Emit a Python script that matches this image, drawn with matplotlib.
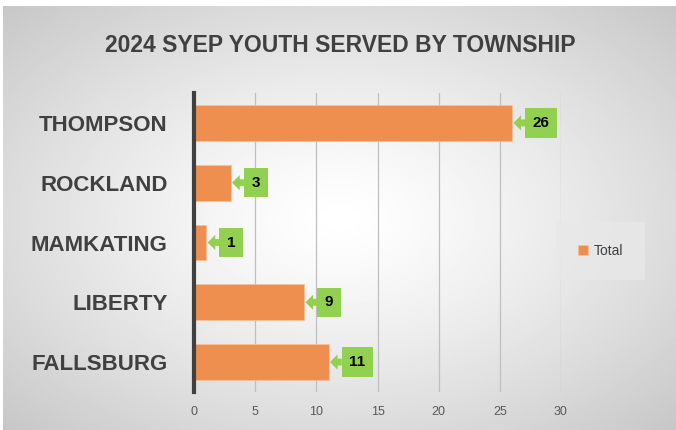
import numpy as np
import matplotlib
matplotlib.use("Agg")
import matplotlib.pyplot as plt

# data, bottom to top as drawn
townships = ["FALLSBURG", "LIBERTY", "MAMKATING", "ROCKLAND", "THOMPSON"]
youth_total = [11, 9, 1, 3, 26]

BAR = "#EF8F4F"
GREEN = "#92D050"
DARK = "#404040"

plt.rcParams["font.family"] = ["Liberation Sans", "DejaVu Sans"]

fig = plt.figure(figsize=(6.76, 4.3), dpi=100)
fig.patch.set_facecolor("white")

# radial grey background
bg = fig.add_axes([3 / 676, 0, 1 - 3 / 676, 1 - 6 / 430], zorder=-2)
yy, xx = np.mgrid[-1:1:300j, -1:1:400j]
r = np.sqrt(xx ** 2 + yy ** 2) / np.sqrt(2)
bg.imshow(1 - 0.22 * r ** 1.3, cmap="gray", vmin=0, vmax=1, aspect="auto")
bg.axis("off")

ax = fig.add_axes([194 / 676, 1 - 392 / 430, (561 - 194) / 676, (392 - 93) / 430])
ax.set_facecolor("none")

y = np.arange(len(townships))
ax.barh(y, youth_total, height=0.6, color=BAR, edgecolor="#F6C29C", linewidth=0.6, zorder=3)

for yi, v in zip(y, youth_total):
    ax.annotate(str(v), xy=(v, yi), xytext=(15, 0), textcoords="offset points",
                ha="left", va="center", fontsize=11, fontweight="bold", color="black",
                bbox=dict(boxstyle="square,pad=0.5", fc=GREEN, ec="none"),
                arrowprops=dict(arrowstyle="simple,head_length=0.5,head_width=1.0,tail_width=0.45",
                                fc=GREEN, ec="none", shrinkA=0, shrinkB=1),
                zorder=4)

ax.set_xlim(0, 30)
ax.set_ylim(-0.5, len(townships) - 0.5)
ax.set_xticks(range(0, 31, 5))
ax.set_yticks(y)
ax.set_yticklabels(townships, fontsize=16, fontweight="bold", color=DARK)
ax.tick_params(axis="y", length=0, pad=19)
ax.tick_params(axis="x", length=0, pad=10, labelsize=9, labelcolor="#595959")
ax.grid(axis="x", color="#BFBFBF", linewidth=0.9, zorder=0)
for s in ("top", "right", "bottom"):
    ax.spines[s].set_visible(False)
ax.spines["left"].set_color(DARK)
ax.spines["left"].set_linewidth(3)
ax.spines["left"].set_zorder(5)

fig.text(340 / 676, 1 - 45 / 430, "2024 SYEP YOUTH SERVED BY TOWNSHIP", ha="center", va="center",
         fontsize=16.5, fontweight="bold", color=DARK)

# legend
leg = ax.legend(["Total"], loc="center left", bbox_to_anchor=(560 / 676, 1 - 251 / 430),
                bbox_transform=fig.transFigure, frameon=True, fontsize=10, handlelength=0.7,
                handleheight=0.7, handletextpad=0.4, borderpad=1.3, borderaxespad=0)
leg.get_frame().set_facecolor("#E8E8E8")
leg.get_frame().set_edgecolor("none")
leg.get_frame().set_boxstyle("square")
for t in leg.get_texts():
    t.set_color(DARK)

fig.savefig("out.png", dpi=100)
